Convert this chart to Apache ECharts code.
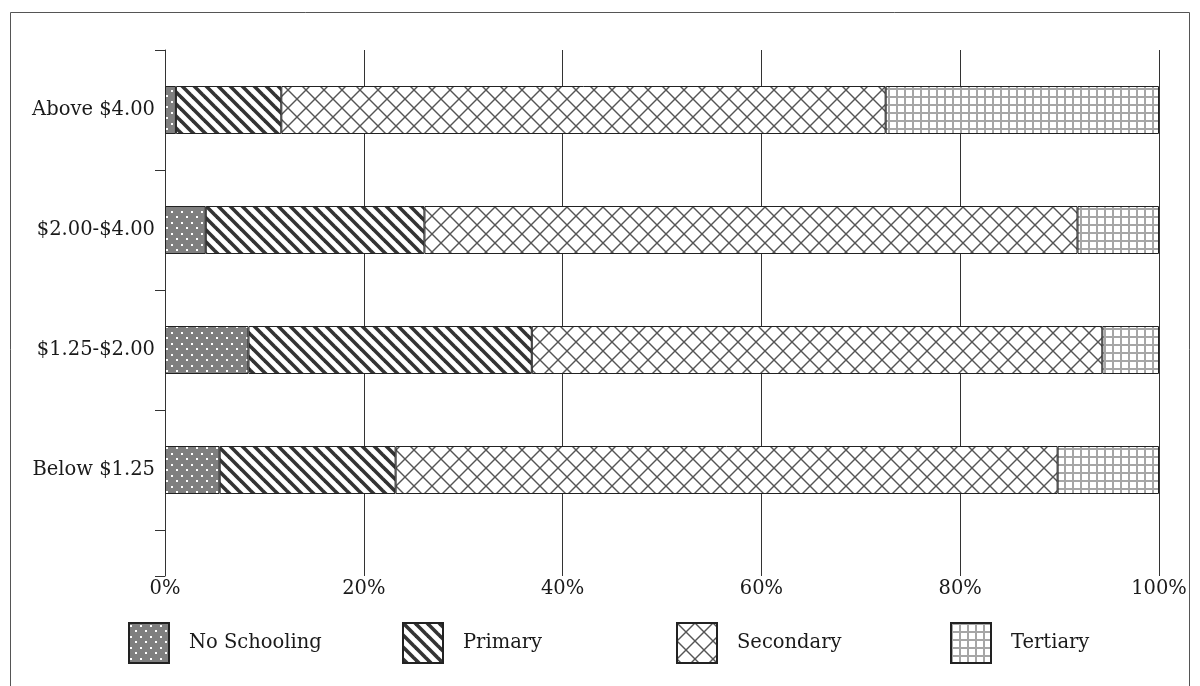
<!DOCTYPE html>
<html>
<head>
<meta charset="utf-8">
<script src="https://cdn.jsdelivr.net/npm/echarts@6/dist/echarts.min.js"></script>
<style>html,body{margin:0;padding:0;background:#fff}#c{width:1200px;height:686px}</style>
</head>
<body>
<div id="c"></div>
<script>
// Data (shares in %, bottom-to-top category order)
const categories = ['Below $1.25', '$1.25-$2.00', '$2.00-$4.00', 'Above $4.00'];
const noSchooling = [5.5, 8.4, 4.1, 1.1];
const primary = [17.7, 28.5, 22.0, 10.6];
const secondary = [66.6, 57.4, 65.7, 60.8];
const tertiary = [10.2, 5.7, 8.2, 27.5];
const seriesNames = ['No Schooling', 'Primary', 'Secondary', 'Tertiary'];
const xTicks = [0, 20, 40, 60, 80, 100];

function tile(w, h, draw) {
  const c = document.createElement('canvas');
  c.width = w; c.height = h;
  const g = c.getContext('2d');
  draw(g, w, h);
  return { image: c, repeat: 'repeat' };
}
const dotsPat = tile(10, 11, (g, w, h) => {
  g.fillStyle = '#7f7f7f'; g.fillRect(0, 0, w, h);
  g.fillStyle = '#ffffff';
  g.fillRect(1, 2, 2, 2); g.fillRect(6, 7, 2, 2);
});
const stripePat = tile(12, 12, (g, w, h) => {
  g.fillStyle = '#ffffff'; g.fillRect(0, 0, w, h);
  g.strokeStyle = '#333333'; g.lineWidth = 3.6;
  for (const k of [-w, 0, w]) {
    g.beginPath(); g.moveTo(k - 2, -2); g.lineTo(k + w + 2, h + 2); g.stroke();
  }
});
const weavePat = tile(18, 18, (g, w, h) => {
  g.fillStyle = '#ffffff'; g.fillRect(0, 0, w, h);
  g.strokeStyle = '#555555'; g.lineWidth = 1.4;
  for (const k of [-w, 0, w]) {
    g.beginPath(); g.moveTo(k - 2, -2); g.lineTo(k + w + 2, h + 2); g.stroke();
    g.beginPath(); g.moveTo(k + w + 2, -2); g.lineTo(k - 2, h + 2); g.stroke();
  }
});
const gridPat = tile(8, 8, (g, w, h) => {
  g.fillStyle = '#ffffff'; g.fillRect(0, 0, w, h);
  g.fillStyle = '#a6a6a6';
  g.fillRect(0, 0, w, 2); g.fillRect(0, 0, 2, h);
});
const patterns = [dotsPat, stripePat, weavePat, gridPat];
const values = [noSchooling, primary, secondary, tertiary];

const font = '"DejaVu Serif", "Liberation Serif", serif';
const txt = { fontFamily: font, fontSize: 19.5, color: '#1a1a1a' };
const legendLefts = [123, 397, 671, 945];

const chart = echarts.init(document.getElementById('c'), null, { renderer: 'canvas' });
chart.setOption({
  animation: false,
  backgroundColor: '#ffffff',
  graphic: [{
    type: 'rect',
    shape: { x: 10.5, y: 12.5, width: 1179, height: 700 },
    style: { fill: 'none', stroke: '#555', lineWidth: 1 }, silent: true, z: -1
  }],
  grid: [
    { left: 165, right: 41, top: 50, height: 480 },
    { left: 165, right: 41, top: 530, height: 46 }
  ],
  legend: seriesNames.map((n, i) => ({
    left: legendLefts[i], top: 617,
    itemWidth: 40, itemHeight: 40, itemGap: 10,
    icon: 'rect',
    data: [n],
    textStyle: Object.assign({ padding: [0, 0, 0, 15] }, txt)
  })),
  xAxis: [0, 1].map(gi => ({
    type: 'value', gridIndex: gi, min: 0, max: 100, interval: 20,
    axisLine: { show: false }, axisTick: { show: false },
    axisLabel: gi === 1 ? Object.assign({ formatter: v => v + '%', margin: 3 }, txt) : { show: false },
    splitLine: { show: true, lineStyle: { color: '#333', width: 1 } }
  })),
  yAxis: [
    {
      type: 'category', gridIndex: 0, data: categories,
      axisLine: { show: true, lineStyle: { color: '#333', width: 1 } },
      axisTick: { show: true, length: 10, lineStyle: { color: '#333' } },
      axisLabel: Object.assign({ margin: 10 }, txt)
    },
    {
      type: 'category', gridIndex: 1, data: [''],
      axisLine: { show: true, lineStyle: { color: '#333', width: 1 } },
      axisTick: { show: true, length: 10, lineStyle: { color: '#333' } },
      axisLabel: { show: false }
    }
  ],
  series: seriesNames.map((n, i) => ({
    name: n, type: 'bar', stack: 'total', barWidth: 48,
    xAxisIndex: 0, yAxisIndex: 0,
    data: values[i],
    itemStyle: { color: patterns[i], borderColor: '#222', borderWidth: 1 },
    emphasis: { disabled: true }
  }))
});
</script>
</body>
</html>
